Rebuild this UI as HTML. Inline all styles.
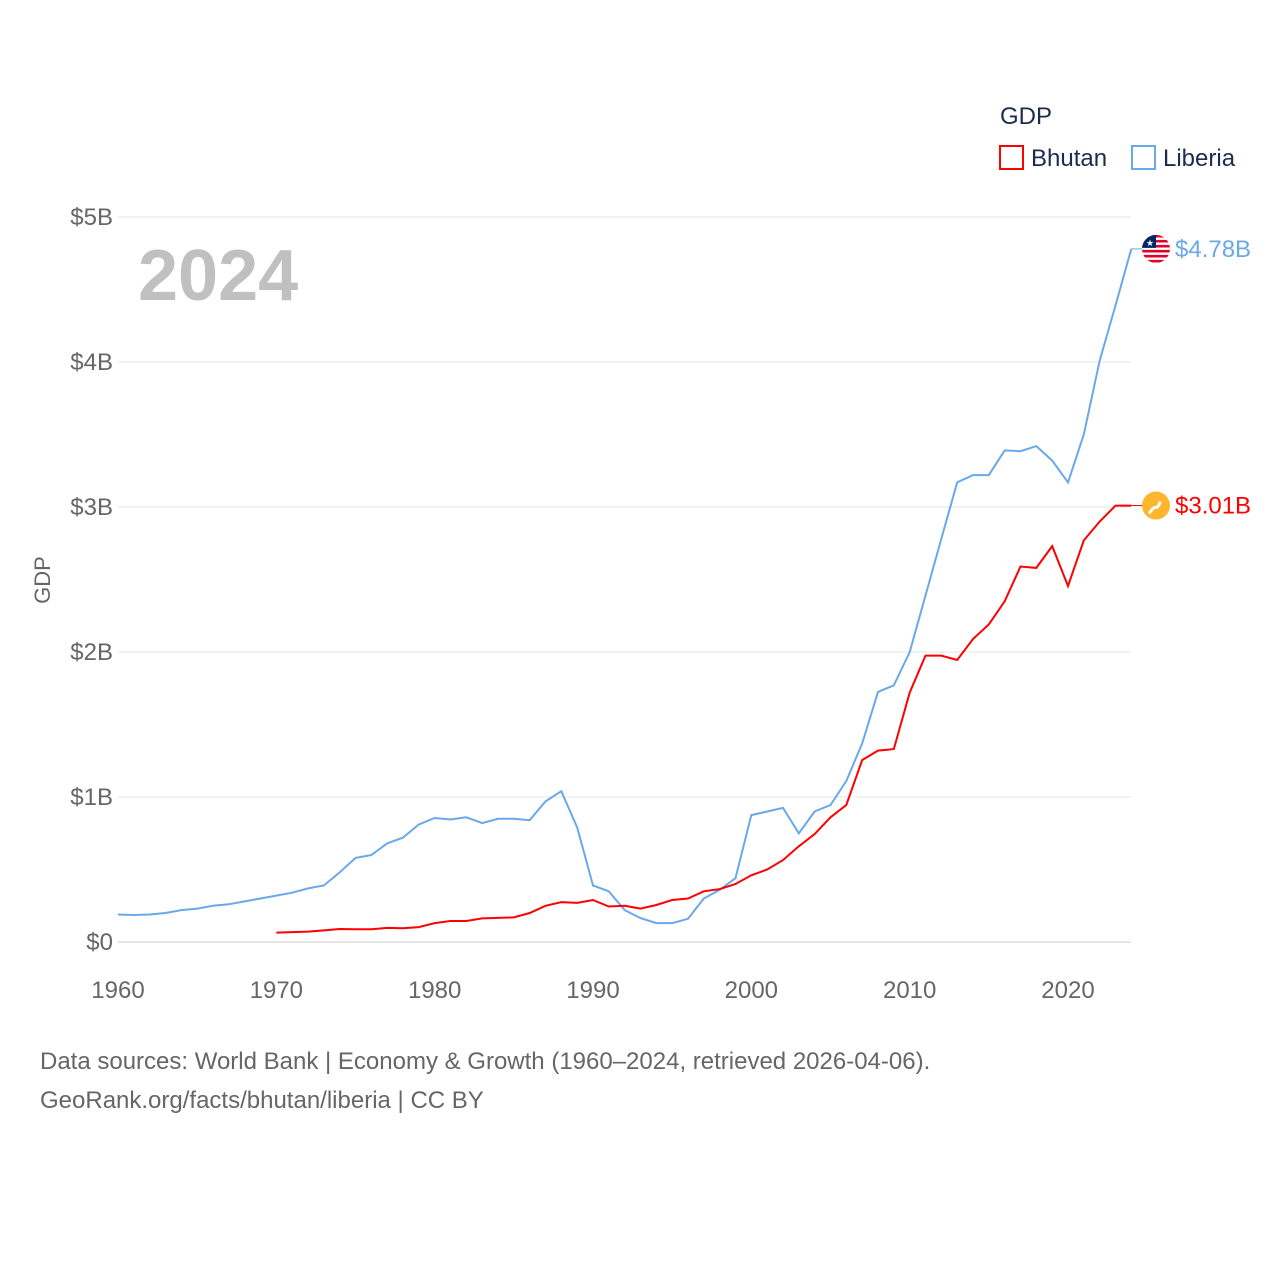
<!DOCTYPE html>
<html><head><meta charset="utf-8">
<style>
body{margin:0;background:#fff;font-family:"Liberation Sans",sans-serif}
svg text{font-family:"Liberation Sans",sans-serif}
</style></head><body>
<svg id="chart" width="1280" height="1280" viewBox="0 0 1280 1280">
<defs><clipPath id="flagclip"><circle cx="1156" cy="249" r="14"/></clipPath></defs>
<g id="grid"></g><g id="lines"></g>
<text x="1000" y="124" font-size="24" fill="#1d2b4f">GDP</text>
<rect x="1000" y="146" width="23" height="23" fill="none" stroke="#f00" stroke-width="2"/>
<text x="1031" y="166" font-size="24" fill="#1d2b4f">Bhutan</text>
<rect x="1132" y="146" width="23" height="23" fill="none" stroke="#6aa8ea" stroke-width="2"/>
<text x="1163" y="166" font-size="24" fill="#1d2b4f">Liberia</text>
<text x="138" y="300" font-size="72" font-weight="bold" fill="#c0c0c0">2024</text>
<text x="50" y="580" font-size="22" fill="#666" transform="rotate(-90 50 580)" text-anchor="middle">GDP</text>
<text x="40" y="1069" font-size="24" fill="#666">Data sources: World Bank | Economy &amp; Growth (1960–2024, retrieved 2026-04-06).</text>
<text x="40" y="1108" font-size="24" fill="#666">GeoRank.org/facts/bhutan/liberia | CC BY</text>
</svg>
<script>
const years=[];for(let y=1960;y<=2024;y++)years.push(y);
const liberia=[0.19,0.186,0.19,0.2,0.22,0.23,0.25,0.26,0.28,0.3,0.32,0.34,0.37,0.39,0.48,0.58,0.6,0.68,0.72,0.81,0.855,0.845,0.86,0.82,0.85,0.85,0.84,0.97,1.04,0.79,0.39,0.35,0.22,0.165,0.13,0.13,0.16,0.3,0.36,0.44,0.875,0.9,0.925,0.75,0.9,0.945,1.11,1.37,1.725,1.77,2.0,2.39,2.78,3.17,3.22,3.22,3.39,3.385,3.42,3.32,3.17,3.5,4.01,4.39,4.78];
const bhutan=[null,null,null,null,null,null,null,null,null,null,0.065,0.068,0.072,0.08,0.09,0.088,0.088,0.097,0.095,0.103,0.13,0.145,0.145,0.163,0.166,0.17,0.2,0.25,0.275,0.27,0.29,0.245,0.25,0.23,0.255,0.29,0.3,0.35,0.365,0.4,0.46,0.5,0.565,0.66,0.745,0.86,0.945,1.255,1.32,1.33,1.72,1.975,1.975,1.945,2.09,2.19,2.35,2.59,2.58,2.73,2.455,2.77,2.9,3.01,3.01];
const yTicks=[0,1,2,3,4,5];
const yTickLabels=["$0","$1B","$2B","$3B","$4B","$5B"];
const xTicks=[1960,1970,1980,1990,2000,2010,2020];
const NS="http://www.w3.org/2000/svg";
const X=y=>118+(y-1960)*950/60;
const Y=v=>942-v*145;
const grid=document.getElementById('grid'),lines=document.getElementById('lines');
function mk(tag,attrs,parent,txt){const e=document.createElementNS(NS,tag);for(const k in attrs)e.setAttribute(k,attrs[k]);if(txt!=null)e.textContent=txt;parent.appendChild(e);return e;}
yTicks.forEach((t,i)=>{
 const l=mk('line',{x1:118,x2:1131,y1:Y(t),y2:Y(t),stroke:t===0?'#ccc':'#e6e6e6','stroke-width':1},grid);
 
 
 const tx=mk('text',{x:113,y:Y(t)+8,'text-anchor':'end','font-size':24,fill:'#666'},grid,yTickLabels[i]);
 
 
});
xTicks.forEach(t=>{
 const tx=mk('text',{x:X(t),y:998,'text-anchor':'middle','font-size':24,fill:'#666'},grid,String(t));
 
 
});
function path(vals){let d='';vals.forEach((v,i)=>{if(v==null)return;d+=(d?'L':'M')+X(years[i]).toFixed(1)+','+Y(v).toFixed(1);});return d;}
const pl=mk('path',{d:path(liberia),fill:'none',stroke:'#6aa8ea','stroke-width':2},lines);


const pb=mk('path',{d:path(bhutan),fill:'none',stroke:'#f00','stroke-width':2},lines);


const lastL=liberia[liberia.length-1],lastB=bhutan[bhutan.length-1];
const c1=mk('line',{x1:X(2024),x2:1142,y1:Y(lastL),y2:Y(lastL),stroke:'#6aa8ea','stroke-width':1},lines);

const c2=mk('line',{x1:X(2024),x2:1142,y1:Y(lastB),y2:Y(lastB),stroke:'#f00','stroke-width':1},lines);

// Liberia flag
const cy=Y(lastL);
document.querySelector('#flagclip circle').setAttribute('cy',cy);
const gl=mk('g',{'clip-path':'url(#flagclip)'},lines);

mk('circle',{cx:1156,cy:cy,r:14,fill:'#fff'},gl);
for(let i=0;i<6;i++)mk('rect',{x:1142,y:cy-14+i*5,width:28,height:2.6,fill:'#e4002b'},gl);
mk('rect',{x:1142,y:cy-14,width:14,height:13,fill:'#002868'},gl);
mk('text',{x:1150,y:cy-3,'text-anchor':'middle','font-size':9,fill:'#fff'},gl,'★');
// Bhutan flag
const gb=mk('g',{},lines);

mk('circle',{cx:1156,cy:Y(lastB),r:14,fill:'#ffb52e'},gb);
mk('path',{d:`M1149,${Y(lastB)+8} q4,-6 6,-6 q4,0 5,-6`,fill:'none',stroke:'#fff','stroke-width':3},gb);
const vl=mk('text',{x:1175,y:Y(lastL)+8,'font-size':24,fill:'#6aa8ea'},lines,'$4.78B');

const vb=mk('text',{x:1175,y:Y(lastB)+8,'font-size':24,fill:'#f00'},lines,'$3.01B');

</script>
</body></html>
